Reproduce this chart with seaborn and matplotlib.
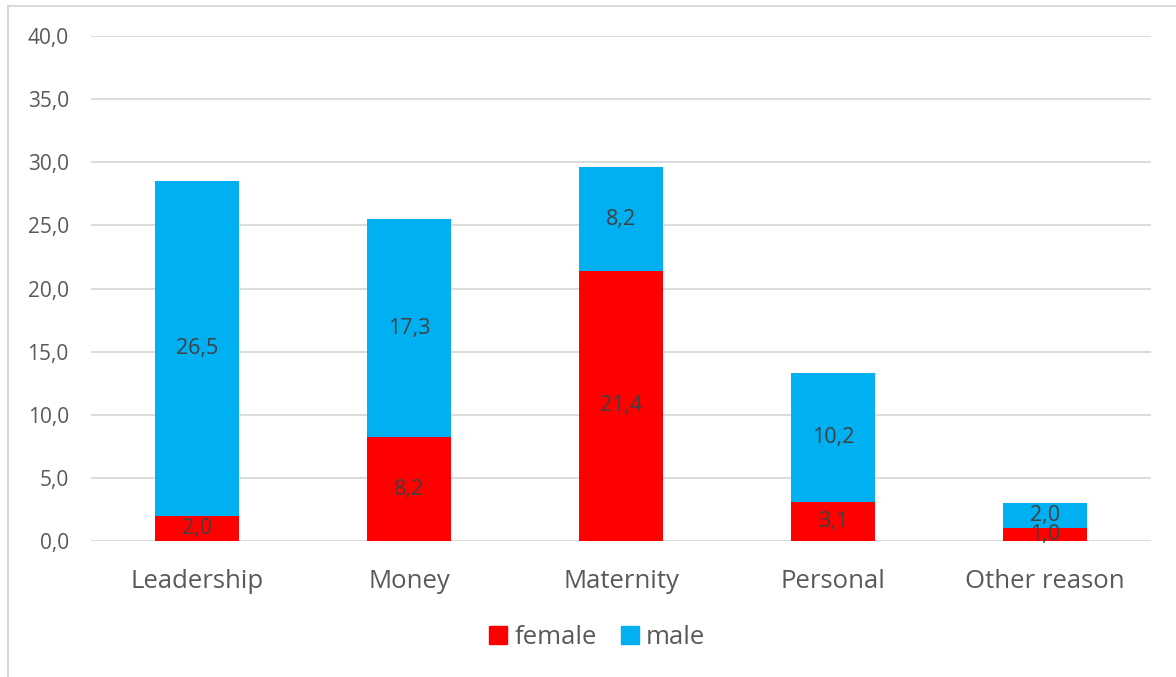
import numpy as np
import pandas as pd
import seaborn as sns
import matplotlib.pyplot as plt
from matplotlib.patches import Rectangle, Patch

categories = ["Leadership", "Money", "Maternity", "Personal", "Other reason"]
female = [2.0, 8.2, 21.4, 3.1, 1.0]
male = [26.5, 17.3, 8.2, 10.2, 2.0]

RED = "#FF0000"
BLUE = "#00B0F0"
TXT = "#595959"

sns.set_style("white")
plt.rcParams["font.family"] = ["Open Sans", "DejaVu Sans"]

df = pd.DataFrame({"reason": categories, "female": female, "male": male})
df["total"] = df["female"] + df["male"]

fig = plt.figure(figsize=(11.76, 6.77), dpi=100)
ax = fig.add_axes([0.0774, 0.2009, 0.9013, 0.7459])

sns.barplot(data=df, x="reason", y="total", color=BLUE, width=0.4,
            saturation=1, linewidth=0, ax=ax, zorder=2)
sns.barplot(data=df, x="reason", y="female", color=RED, width=0.4,
            saturation=1, linewidth=0, ax=ax, zorder=3)

ax.set_ylim(0, 40)
ax.set_yticks(np.arange(0, 41, 5))
ax.set_yticklabels([f"{v:.1f}".replace(".", ",") for v in np.arange(0, 41, 5)])
ax.set_xlim(-0.5, len(categories) - 0.5)
ax.set_xlabel("")
ax.set_ylabel("")
ax.grid(axis="y", color="#D9D9D9", linewidth=1.3, zorder=0)
ax.set_axisbelow(True)
for s in ax.spines.values():
    s.set_visible(False)
ax.tick_params(axis="y", length=0, pad=16, labelsize=15, labelcolor=TXT)
ax.tick_params(axis="x", length=0, pad=20, labelsize=18.5, labelcolor=TXT)

# segment labels
for i, (f, m) in enumerate(zip(female, male)):
    ax.text(i, f / 2, f"{f:.1f}".replace(".", ","), ha="center", va="center",
            fontsize=15.5, color="#404040", zorder=5)
    ax.text(i, f + m / 2, f"{m:.1f}".replace(".", ","), ha="center", va="center",
            fontsize=15.5, color="#404040", zorder=5)

handles = [Patch(color=RED, label="female"), Patch(color=BLUE, label="male")]
fig.legend(handles=handles, loc="center", bbox_to_anchor=(0.508, 0.059), ncol=2,
           frameon=False, fontsize=18.5, labelcolor=TXT, handlelength=0.7,
           handleheight=0.7, handletextpad=0.3, columnspacing=0.9)

# outer chart frame
fig.patches.append(Rectangle((0.0068, -0.1), 1.2, 1.091, transform=fig.transFigure,
                             fill=False, edgecolor="#D9D9D9", linewidth=1.5))

fig.savefig("out.png", dpi=100)
